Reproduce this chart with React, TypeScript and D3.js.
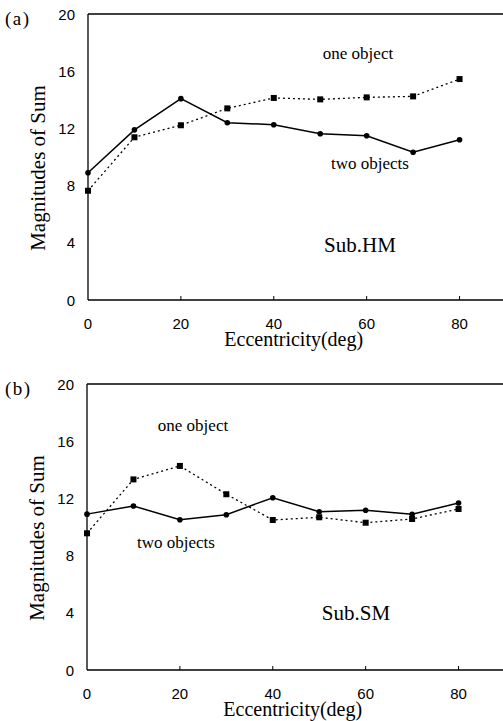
import React from 'react';
import * as d3 from 'd3';

// eccentricity (deg) sampled every 10 deg
const ecc = [0, 10, 20, 30, 40, 50, 60, 70, 80];
const xTicks = [0, 20, 40, 60, 80];
const yTicks = [0, 4, 8, 12, 16, 20];

// Sub.HM
const hmOne = [7.64, 11.38, 12.22, 13.4, 14.13, 14.03, 14.17, 14.24, 15.45];
const hmTwo = [8.9, 11.9, 14.08, 12.4, 12.26, 11.63, 11.49, 10.33, 11.21];

// Sub.SM
const smOne = [9.56, 13.33, 14.27, 12.29, 10.49, 10.68, 10.3, 10.56, 11.26];
const smTwo = [10.9, 11.47, 10.51, 10.86, 12.05, 11.07, 11.17, 10.89, 11.68];

const serif = '"Liberation Serif", "DejaVu Serif", serif';
const sans = '"Liberation Sans", Arial, sans-serif';

function Panel({ top, left, tag, name, one, two, oneLbl, twoLbl, nameLbl }) {
  const x = d3.scaleLinear().domain([0, 90]).range([left, left + 418]);
  const y = d3.scaleLinear().domain([0, 20]).range([top + 286, top]);
  const line = d3
    .line()
    .x((d, i) => x(ecc[i]))
    .y(d => y(d));
  return (
    <g>
      <text x={5} y={top + 11} fontFamily={serif} fontSize={19} letterSpacing={1.5}>
        {tag}
      </text>
      {/* frame */}
      <line x1={x(0)} y1={y(20)} x2={x(90)} y2={y(20)} stroke="#000" strokeWidth={1.3} />
      <line x1={x(0)} y1={y(20)} x2={x(0)} y2={y(0)} stroke="#000" strokeWidth={1.3} />
      <line x1={x(0)} y1={y(0)} x2={x(90)} y2={y(0)} stroke="#000" strokeWidth={1.3} />
      {xTicks.slice(1).map(t => (
        <line key={t} x1={x(t)} x2={x(t)} y1={y(0)} y2={y(0) - 4} stroke="#000" />
      ))}
      {yTicks.map(t => (
        <text key={t} x={x(0) - 13} y={y(t) + 5.5} textAnchor="end" fontFamily={sans} fontSize={15}>
          {t}
        </text>
      ))}
      {xTicks.map(t => (
        <text key={t} x={x(t)} y={y(0) + 28.5} textAnchor="middle" fontFamily={sans} fontSize={15}>
          {t}
        </text>
      ))}
      <text
        transform={`translate(${left - 43},${top + 154}) rotate(-90)`}
        textAnchor="middle"
        fontFamily={serif}
        fontSize={21}
      >
        Magnitudes of Sum
      </text>
      <text x={x(44.3)} y={y(0) + 45.5} textAnchor="middle" fontFamily={serif} fontSize={20}>
        Eccentricity(deg)
      </text>
      <path d={line(one)} fill="none" stroke="#000" strokeWidth={1.3} strokeDasharray="2,3" />
      <path d={line(two)} fill="none" stroke="#000" strokeWidth={1.5} />
      {one.map((v, i) => (
        <rect key={i} x={x(ecc[i]) - 3} y={y(v) - 3} width={6} height={6} fill="#000" />
      ))}
      {two.map((v, i) => (
        <circle key={i} cx={x(ecc[i])} cy={y(v)} r={2.8} fill="#000" />
      ))}
      <text x={oneLbl[0]} y={oneLbl[1]} textAnchor="middle" fontFamily={serif} fontSize={17}>
        one object
      </text>
      <text x={twoLbl[0]} y={twoLbl[1]} textAnchor="middle" fontFamily={serif} fontSize={17}>
        two objects
      </text>
      <text x={nameLbl[0]} y={nameLbl[1]} textAnchor="middle" fontFamily={serif} fontSize={21}>
        {name}
      </text>
    </g>
  );
}

export default function App() {
  return (
    <svg
      width={503}
      height={721}
      style={{ position: 'absolute', left: 0, top: 0, background: '#fff' }}
    >
      <Panel
        top={14}
        left={88}
        tag="(a)"
        name="Sub.HM"
        one={hmOne}
        two={hmTwo}
        oneLbl={[358, 59]}
        twoLbl={[370, 169]}
        nameLbl={[360, 252]}
      />
      <Panel
        top={384}
        left={87}
        tag="(b)"
        name="Sub.SM"
        one={smOne}
        two={smTwo}
        oneLbl={[193, 431]}
        twoLbl={[176, 548]}
        nameLbl={[356, 620]}
      />
    </svg>
  );
}
